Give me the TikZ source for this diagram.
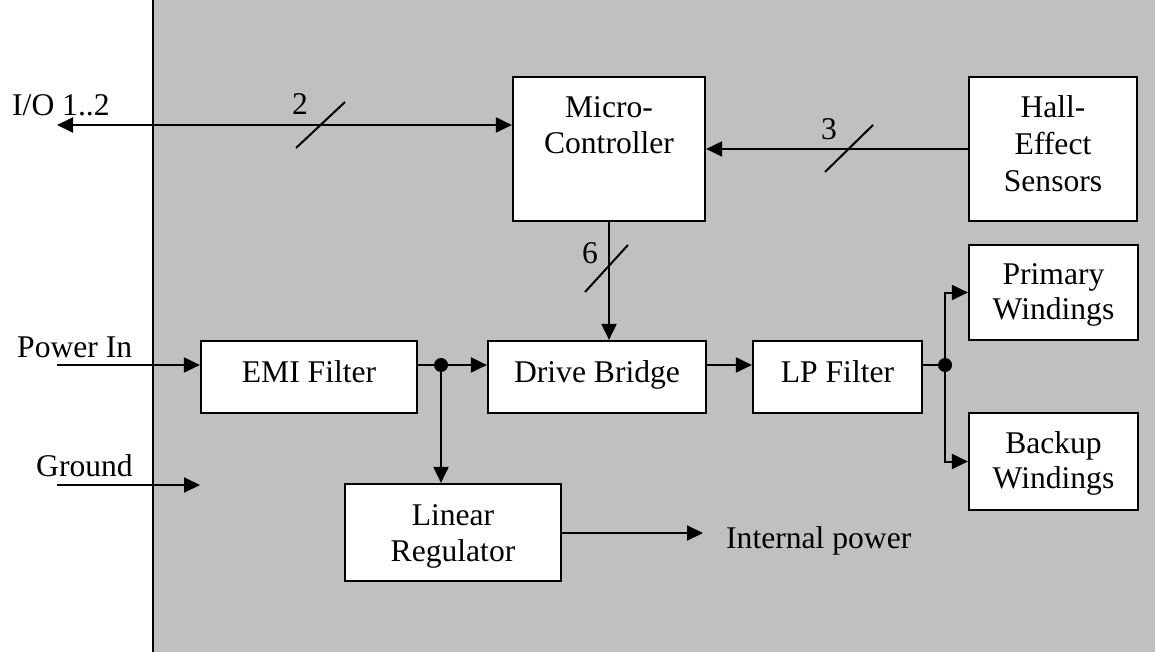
\documentclass[tikz,border=0pt]{standalone}
\usepackage{fontspec}
\setmainfont{Liberation Serif}
\usetikzlibrary{arrows.meta}
\definecolor{panel}{RGB}{192,192,192}
\begin{document}
\begin{tikzpicture}[x=1pt,y=-1pt, font=\fontsize{31.6}{36}\selectfont,
  box/.style={draw, line width=2.2pt, fill=white, inner sep=0pt, align=center},
  onel/.style={box, text height=19pt, text depth=9pt},
  conn/.style={line width=2pt, -{Triangle[length=16pt,width=15pt]}},
  both/.style={line width=2pt, {Triangle[length=16pt,width=15pt]}-{Triangle[length=16pt,width=15pt]}},
  wire/.style={line width=2pt},
  slash/.style={line width=2pt},
  dot/.style={circle, fill=black, inner sep=0pt, minimum size=14pt},
  lbl/.style={inner sep=0pt},
  btxt/.style={inner sep=0pt, anchor=north, align=center}]
\useasboundingbox (0,0) rectangle (1155,652);
\fill[panel] (153,0) rectangle (1155,652);
\draw[line width=2.2pt] (153,0) -- (153,652);

% blocks
\node[box, minimum width=192pt, minimum height=144pt] (micro) at (609,149) {};
\node[box, minimum width=168pt, minimum height=144pt] (hall) at (1053,149) {};
\node[box, minimum width=169pt, minimum height=95pt] (primary) at (1053.5,292.5) {};
\node[box, minimum width=169pt, minimum height=97pt] (backup) at (1053.5,461.5) {};
\node[onel, minimum width=216pt, minimum height=72pt] (emi) at (309,377) {EMI Filter};
\node[onel, minimum width=218pt, minimum height=72pt] (drive) at (597,377) {Drive Bridge};
\node[onel, minimum width=169pt, minimum height=72pt] (lp) at (837.5,377) {LP Filter};
\node[box, minimum width=216pt, minimum height=97pt] (linreg) at (453,532.5) {};

% block texts
\node[btxt] (microtxt) at (609,96.4) {Micro-\\Controller};
\node[btxt, font=\fontsize{31.6}{37}\selectfont] (halltxt) at (1053,95.4) {Hall-\\Effect\\Sensors};
\node[btxt, font=\fontsize{31.6}{35}\selectfont] (primtxt) at (1053.5,263.4) {Primary\\Windings};
\node[btxt, font=\fontsize{31.6}{35}\selectfont] (backtxt) at (1053.5,431.4) {Backup\\Windings};
\node[btxt] (lintxt) at (453,504.4) {Linear\\Regulator};

% free ends and junctions
\coordinate (io) at (57,125);
\coordinate (pin) at (57,365);
\coordinate (gnd) at (57,485);
\coordinate (gndend) at (200,485);
\coordinate (j1) at (441,365);
\coordinate (j2) at (945,365);
\coordinate (ipwr) at (703,533);

% connectors
\draw[both] (io) -- (io -| micro.west);
\draw[conn] (hall.west) -- (micro.east |- hall.west);
\draw[conn] (micro.south) -- (micro.south |- drive.north);
\draw[conn] (pin) -- (pin -| emi.west);
\draw[wire] (emi.east |- j1) -- (j1);
\draw[conn] (j1) -- (j1 -| drive.west);
\draw[conn] (j1) -- (j1 |- linreg.north);
\draw[conn] (drive.east |- j1) -- (j1 -| lp.west);
\draw[wire] (lp.east |- j2) -- (j2);
\draw[conn] (j2) |- (primary.west);
\draw[conn] (j2) |- (backup.west);
\draw[conn] (gnd) -- (gndend);
\draw[conn] (linreg.east |- ipwr) -- (ipwr);
\node[dot] (d1) at (j1) {};
\node[dot] (d2) at (j2) {};

% bus slashes
\draw[slash] (296,148) -- (345,102);
\draw[slash] (825,172) -- (873,125);
\draw[slash] (585,292) -- (628,245);

% labels
\node[lbl, anchor=base west] (iolbl) at (12,116) {I/O 1..2};
\node[lbl, anchor=base] (n2) at (300,115) {2};
\node[lbl, anchor=base] (n3) at (829,140) {3};
\node[lbl, anchor=base] (n6) at (590,263) {6};
\node[lbl, anchor=base west] (pwrlbl) at (17,357) {Power In};
\node[lbl, anchor=base west] (gndlbl) at (36,476) {Ground};
\node[lbl, anchor=base west] (intlbl) at (726,548) {Internal power};
\end{tikzpicture}
\end{document}
